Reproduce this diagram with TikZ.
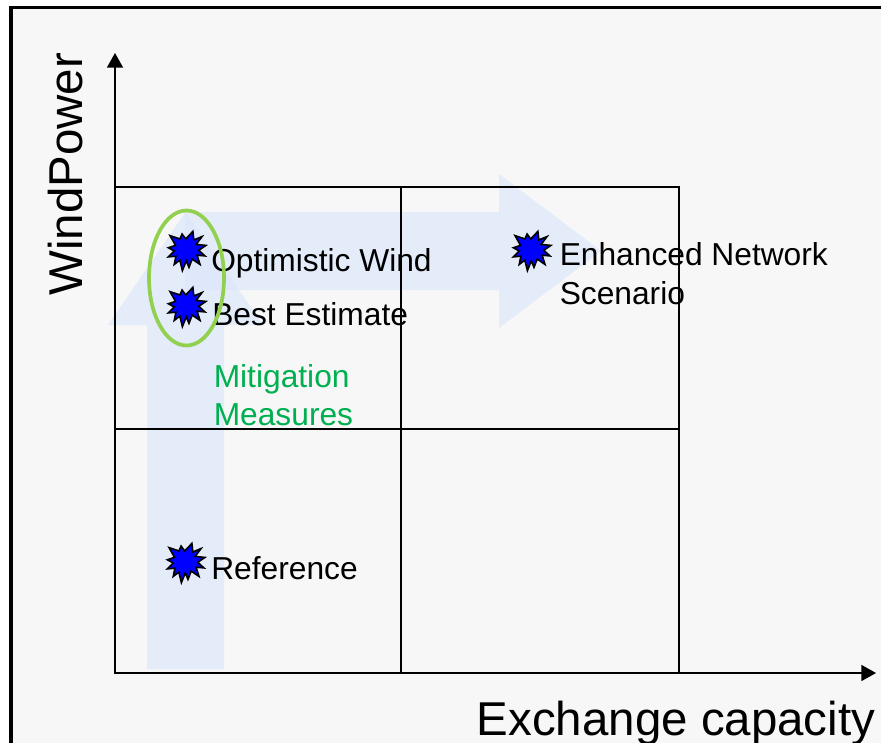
\documentclass[tikz,border=0pt]{standalone}
\usepackage{fontspec}
\setmainfont{Liberation Sans}
\usetikzlibrary{arrows.meta}
\definecolor{panelgray}{HTML}{F7F7F7}
\definecolor{flowblue}{HTML}{DDE7FB}
\definecolor{ringgreen}{HTML}{92D050}
\definecolor{notegreen}{HTML}{00B050}
\tikzset{
  burst/.pic={code={%
      \draw [fill=blue,line width=1.2pt,scale=0.98] (-17.3,-15.7) -- (-7.3,-12.3) -- (-5,-17.3) -- (-1.3,-12.3)
        -- (6,-20) -- (7,-11.3) -- (15.3,-14.7) -- (9.3,-6.7) -- (19.3,-5.7) -- (12,-0.7)
        -- (18.3,5) -- (10.3,4.3) -- (13.3,13.7) -- (5.3,8.3) -- (2,16.7) -- (-0.7,10)
        -- (-4.7,20) -- (-7.3,9.3) -- (-13,13.7) -- (-11.3,5.3) -- (-19,6) -- (-13,0)
        -- (-19,-3.3) -- (-11.7,-5.7) -- cycle;
  }},
  caption/.style={anchor=base west,inner sep=0pt,align=left,font=\fontsize{23.8}{28.5}\selectfont},
  axislabel/.style={anchor=base west,inner sep=0pt,font=\fontsize{35.6}{40}\selectfont},
  axisline/.style={line width=1.2pt,-{Triangle[length=11pt,width=12pt]}},
  flow/.style={fill=flowblue,opacity=0.7},
}
\begin{document}
\begin{tikzpicture}[x=0.75pt,y=-0.75pt]
    \useasboundingbox (0,0) rectangle (881,742);
    \clip (0,0) rectangle (881,742);
    % set coordinates
    \coordinate (O) at (115,673);
    \coordinate (Ytip) at (115,53);
    \coordinate (Xtip) at (876,673);
    \coordinate (G1) at (115,187);
    \coordinate (G2) at (679,673);
    \coordinate (Gt) at (401,187);
    \coordinate (Gb) at (401,673);
    \coordinate (Gl) at (115,429);
    \coordinate (Gr) at (679,429);
    % draw panel
    \draw [fill=panelgray,line width=2.6pt] (11,7.5) rectangle (900,760);
    % draw broad arrows
    \fill [flow] (147,669) -- (147,325) -- (108,325) -- (185.5,212) -- (263,325) -- (224,325) -- (224,669) -- cycle;
    \fill [flow] (185,212) -- (499,212) -- (499,174) -- (601,251) -- (499,328) -- (499,290) -- (185,290) -- cycle;
    % draw grid and axes
    \draw [line width=1pt] (G1) rectangle (G2);
    \draw [line width=1pt] (Gt) -- (Gb);
    \draw [line width=1pt] (Gl) -- (Gr);
    \draw [axisline] (O) -- (Ytip);
    \draw [axisline] (O) -- (Xtip);
    % add labels
    \node [caption] (windtxt) at (211,271) {Optimistic Wind};
    \node [caption] (besttxt) at (212,325) {Best Estimate};
    \node [caption,text=notegreen] (mit1) at (213.5,387) {Mitigation};
    \node [caption,text=notegreen] (mit2) at (213.5,425) {Measures};
    \node [caption] (reftxt) at (211,579) {Reference};
    \node [caption] (net1) at (559.5,265) {Enhanced Network};
    \node [caption] (net2) at (559.5,304) {Scenario};
    \node [axislabel] (xlabel) at (476.5,735) {Exchange capacity};
    \node [axislabel,rotate=90] (ylabel) at (82,296) {WindPower};
    % draw markers
    \pic (wind) at (187,251) {burst};
    \pic (best) at (187,307) {burst};
    \pic (ref) at (186,563) {burst};
    \pic (net) at (532,251) {burst};
    \draw [ringgreen,line width=2.8pt] (186.5,278) ellipse [x radius=37.5,y radius=67.5];
\end{tikzpicture}
\end{document}
